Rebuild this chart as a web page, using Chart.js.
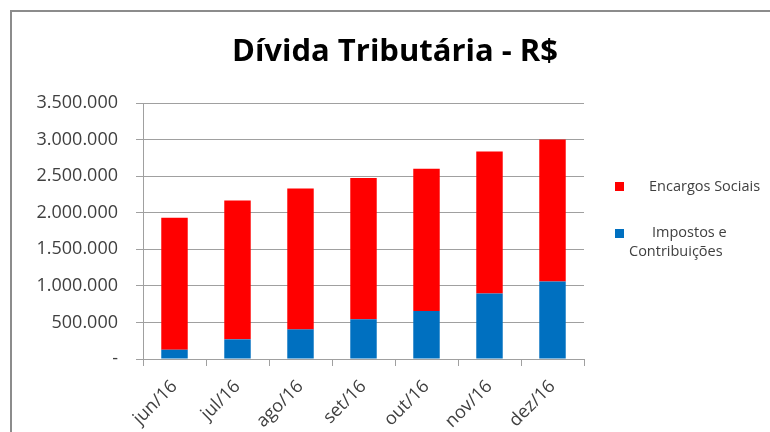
<!DOCTYPE html>
<html><head><meta charset="utf-8">
<script src="https://cdn.jsdelivr.net/npm/chart.js@4.4.1/dist/chart.umd.min.js"></script>
<style>html,body{margin:0;padding:0;background:#fff;overflow:hidden}#wrap{width:770px;height:432px;position:relative}</style>
</head><body><div id="wrap"><canvas id="c" width="770" height="432"></canvas></div>
<script>
const categories = ['jun/16', 'jul/16', 'ago/16', 'set/16', 'out/16', 'nov/16', 'dez/16'];
const impostosContribuicoes = [127000, 269000, 405000, 542000, 656000, 897000, 1061000];
const encargosSociais = [1803000, 1899000, 1927000, 1931000, 1944000, 1940000, 1939000];
const yTickValues = [0, 500000, 1000000, 1500000, 2000000, 2500000, 3000000, 3500000];
const titleText = 'Dívida Tributária - R$';
const legendEncargos = ['Encargos Sociais'];
const legendImpostos = ['Impostos e', 'Contribuições'];

const FONT = "'Open Sans', sans-serif";
const RED = '#FF0000', BLUE = '#0070C0', GRID = '#a0a0a0', TXT = '#404040';

function fmt(v) {
  if (v === 0) return '-';
  return String(Math.round(v)).replace(/\B(?=(\d{3})+(?!\d))/g, '.');
}

const decor = {
  id: 'decor',
  afterDraw(chart) {
    const ctx = chart.ctx;
    ctx.save();
    // frame
    ctx.strokeStyle = '#8c8c8c';
    ctx.lineWidth = 2;
    ctx.beginPath();
    ctx.moveTo(11, 432); ctx.lineTo(11, 11); ctx.lineTo(770, 11);
    ctx.stroke();
    // title
    ctx.fillStyle = '#000';
    ctx.font = "bold 31px " + FONT;
    ctx.textAlign = 'center';
    ctx.textBaseline = 'middle';
    ctx.fillText(titleText, 395, 52);
    // legend
    ctx.font = "14.5px " + FONT;
    ctx.textAlign = 'left';
    ctx.fillStyle = RED; ctx.fillRect(615, 182, 9, 9);
    ctx.fillStyle = TXT; ctx.fillText(legendEncargos[0], 649, 187);
    ctx.fillStyle = BLUE; ctx.fillRect(615, 229, 9, 9);
    ctx.fillStyle = TXT;
    ctx.fillText(legendImpostos[0], 652, 233);
    ctx.fillText(legendImpostos[1], 629, 252);
    ctx.restore();
  }
};

new Chart(document.getElementById('c'), {
  type: 'bar',
  data: {
    labels: categories,
    datasets: [
      { label: 'Impostos e Contribuições', data: impostosContribuicoes, backgroundColor: BLUE, borderWidth: 0 },
      { label: 'Encargos Sociais', data: encargosSociais, backgroundColor: RED, borderWidth: 0 }
    ]
  },
  options: {
    responsive: false,
    devicePixelRatio: 1,
    animation: false,
    layout: { padding: { top: 103, right: 186, bottom: 0, left: 0 } },
    datasets: { bar: { categoryPercentage: 1, barPercentage: 0.42 } },
    plugins: { legend: { display: false }, title: { display: false }, tooltip: { enabled: false } },
    scales: {
      x: {
        stacked: true,
        afterFit(s) { s.height = 73; },
        grid: { drawOnChartArea: false, drawTicks: true, tickLength: 7, color: GRID, offset: true },
        border: { color: GRID },
        ticks: { color: TXT, font: { family: FONT, size: 18 }, minRotation: 45, maxRotation: 45, autoSkip: false, padding: 10 }
      },
      y: {
        stacked: true,
        min: 0, max: 3500000,
        afterFit(s) { s.width = 143; },
        afterBuildTicks(s) { s.ticks = yTickValues.map(v => ({ value: v })); },
        grid: { color: GRID, tickLength: 7 },
        border: { color: GRID },
        ticks: { color: TXT, font: { family: FONT, size: 18 }, padding: 18, callback: v => fmt(v) }
      }
    }
  },
  plugins: [decor]
});
</script></body></html>
